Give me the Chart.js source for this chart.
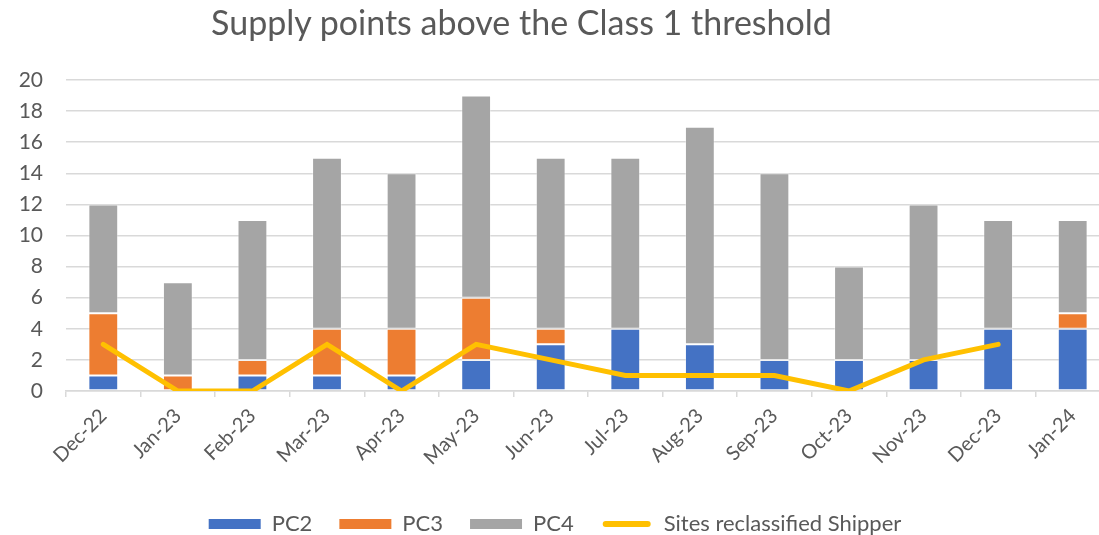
<!DOCTYPE html>
<html>
<head>
<meta charset="utf-8">
<script src="https://cdn.jsdelivr.net/npm/chart.js@4.4.1/dist/chart.umd.min.js"></script>
<style>
  html, body { margin: 0; padding: 0; background: #fff; overflow: hidden; }
  #wrap { position: relative; width: 1112px; height: 545px; }
  #title {
    position: absolute; left: 0; top: 1px; width: 1043px; text-align: center;
    font-family: Lato, "Open Sans", sans-serif; font-size: 34px; color: #595959;
  }
</style>
</head>
<body>
<div id="wrap">
  <div id="title">Supply points above the Class 1 threshold</div>
  <canvas id="chart" width="1112" height="545"></canvas>
</div>
<script>
const months = ['Dec-22', 'Jan-23', 'Feb-23', 'Mar-23', 'Apr-23', 'May-23', 'Jun-23',
  'Jul-23', 'Aug-23', 'Sep-23', 'Oct-23', 'Nov-23', 'Dec-23', 'Jan-24']
const pc2 = [1, 0, 1, 1, 1, 2, 3, 4, 3, 2, 2, 2, 4, 4]
const pc3 = [4, 1, 1, 3, 3, 4, 1, 0, 0, 0, 0, 0, 0, 1]
const pc4 = [7, 6, 9, 11, 10, 13, 11, 11, 14, 12, 6, 10, 7, 6]
const reclassified = [3, 0, 0, 3, 0, 3, 2, 1, 1, 1, 0, 2, 3, null]
const yTicks = [0, 2, 4, 6, 8, 10, 12, 14, 16, 18, 20]

const textColor = '#595959'
const gridColor = '#d9d9d9'
const font = 'Lato, "Open Sans", sans-serif'

const barSet = (label, data, color) => ({
  type: 'bar',
  label: label,
  data: data,
  backgroundColor: color,
  borderColor: 'rgba(255,255,255,0.35)',
  borderWidth: 1,
  borderSkipped: false,
  barPercentage: 0.4,
  categoryPercentage: 1.0,
  stack: 'pc',
  order: 2
})

new Chart(document.getElementById('chart'), {
  data: {
    labels: months,
    datasets: [
      barSet('PC2', pc2, '#4472C4'),
      barSet('PC3', pc3, '#ED7D31'),
      barSet('PC4', pc4, '#A5A5A5'),
      {
        type: 'line',
        label: 'Sites reclassified Shipper',
        data: reclassified,
        borderColor: '#FFC000',
        backgroundColor: '#FFC000',
        borderWidth: 5,
        borderCapStyle: 'round',
        pointRadius: 0,
        tension: 0,
        order: 1
      }
    ]
  },
  options: {
    responsive: false,
    animation: false,
    layout: { padding: { top: 80, right: 2, left: 0, bottom: 0 } },
    plugins: {
      title: { display: false },
      tooltip: { enabled: false },
      legend: {
        position: 'bottom',
        labels: {
          color: textColor,
          font: { family: font, size: 22 },
          boxWidth: 52,
          boxHeight: 10,
          padding: 27,
          // line entry: yellow pill with a white stroke, so it reads as a thick round line
          generateLabels: (chart) => chart.data.datasets.map((ds, i) => ({
            text: ds.label,
            fillStyle: ds.backgroundColor,
            strokeStyle: '#ffffff',
            lineWidth: ds.type === 'line' ? 4 : 0,
            borderRadius: ds.type === 'line' ? 5 : 0,
            fontColor: textColor,
            datasetIndex: i
          }))
        }
      }
    },
    scales: {
      x: {
        stacked: true,
        grid: { display: true, drawOnChartArea: false, drawTicks: true, tickLength: 6, color: gridColor, lineWidth: 1.5 },
        border: { display: true, color: gridColor, width: 1.5 },
        ticks: {
          color: textColor,
          font: { family: font, size: 20 },
          maxRotation: 45,
          minRotation: 45,
          autoSkip: false,
          padding: 7
        },
        afterFit: (scale) => { scale.height = 95 }
      },
      y: {
        stacked: true,
        min: 0,
        max: 20,
        afterBuildTicks: (scale) => { scale.ticks = yTicks.map(v => ({ value: v })) },
        grid: { color: gridColor, lineWidth: 1.5, drawTicks: false },
        border: { display: false },
        ticks: {
          color: textColor,
          font: { family: font, size: 21 },
          padding: 23
        },
        afterFit: (scale) => { scale.width = 66 }
      }
    }
  }
})
</script>
</body>
</html>
